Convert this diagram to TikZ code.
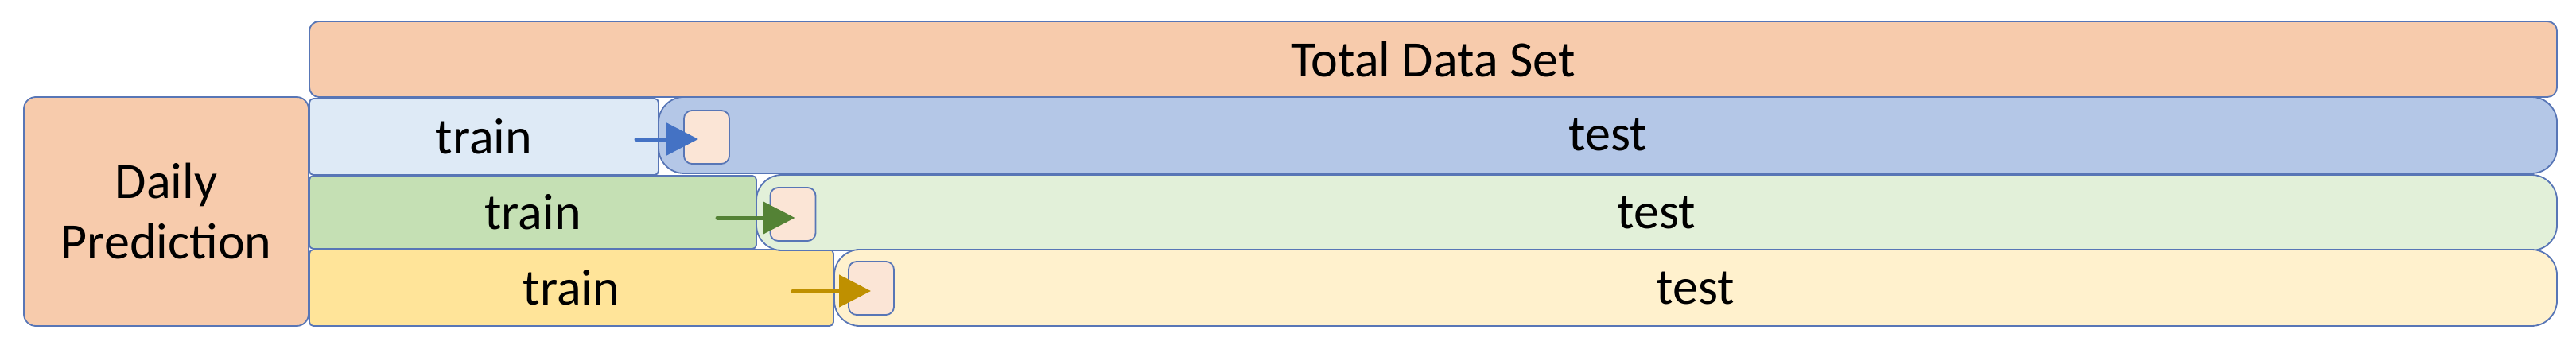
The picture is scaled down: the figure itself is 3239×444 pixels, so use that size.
\documentclass[tikz,border=0pt]{standalone}
\usepackage{fontspec}
\setmainfont{Carlito}
\usetikzlibrary{arrows.meta}
\definecolor{peach}{RGB}{247,203,172}
\definecolor{trainA}{RGB}{222,234,246}
\definecolor{testA}{RGB}{180,199,231}
\definecolor{trainB}{RGB}{197,224,180}
\definecolor{testB}{RGB}{226,240,217}
\definecolor{trainC}{RGB}{255,228,153}
\definecolor{testC}{RGB}{255,241,205}
\definecolor{sqfill}{RGB}{251,229,214}
\definecolor{edge}{RGB}{88,118,182}
\definecolor{arrA}{RGB}{68,114,196}
\definecolor{arrB}{RGB}{84,130,53}
\definecolor{arrC}{RGB}{191,144,0}
\tikzset{
  box/.style={draw=edge, line width=0.9pt, inner sep=0pt, outer sep=0pt, align=center,
    font=\fontsize{32}{38}\selectfont},
  sq/.style={draw=edge, line width=0.9pt, fill=sqfill, inner sep=0pt, outer sep=0pt,
    minimum width=28.5pt, minimum height=33.5pt, rounded corners=5pt},
  flow/.style={line width=2.5pt, line cap=round, -{Triangle[length=20pt,width=20pt]}}
}
\begin{document}
\begin{tikzpicture}[x=0.5pt,y=-0.5pt]
\useasboundingbox (0,0) rectangle (3239,444);
\node[box, fill=peach, minimum width=1413pt, minimum height=47.5pt, rounded corners=6pt] (total) at (1802,74.5) {Total Data Set};
\node[box, fill=peach, minimum width=179pt, minimum height=144pt, rounded corners=7.5pt] (daily) at (209,266) {Daily\\Prediction};
\node[box, fill=trainA, minimum width=219.5pt, minimum height=48pt, rounded corners=2.5pt] (train1) at (608.5,172) {train};
\node[box, fill=trainB, minimum width=281pt, minimum height=46pt, rounded corners=2.5pt] (train2) at (670,267) {train};
\node[box, fill=trainC, minimum width=329.5pt, minimum height=48pt, rounded corners=2.5pt] (train3) at (718.5,362) {train};
\node[box, fill=testA, minimum width=1193.5pt, minimum height=48pt, rounded corners=16pt] (test1) at (2021.5,170) {test};
\node[box, fill=testB, minimum width=1132pt, minimum height=47.5pt, rounded corners=16pt] (test2) at (2083,267.5) {test};
\node[box, fill=testC, minimum width=1083pt, minimum height=48pt, rounded corners=16pt] (test3) at (2132,362) {test};
\node[sq] (sq1) at (888.5,172.5) {};
\node[sq] (sq2) at (997,269.5) {};
\node[sq] (sq3) at (1095.5,362.5) {};
\coordinate (s1) at (800,175);
\coordinate (s2) at (902,274);
\coordinate (s3) at (997,366);
\draw[flow, draw=arrA, fill=arrA] (s1) -- ([xshift=9pt]sq1.west |- s1);
\draw[flow, draw=arrB, fill=arrB] (s2) -- ([xshift=15.5pt]sq2.west |- s2);
\draw[flow, draw=arrC, fill=arrC] (s3) -- ([xshift=14pt]sq3.west |- s3);
\end{tikzpicture}
\end{document}
